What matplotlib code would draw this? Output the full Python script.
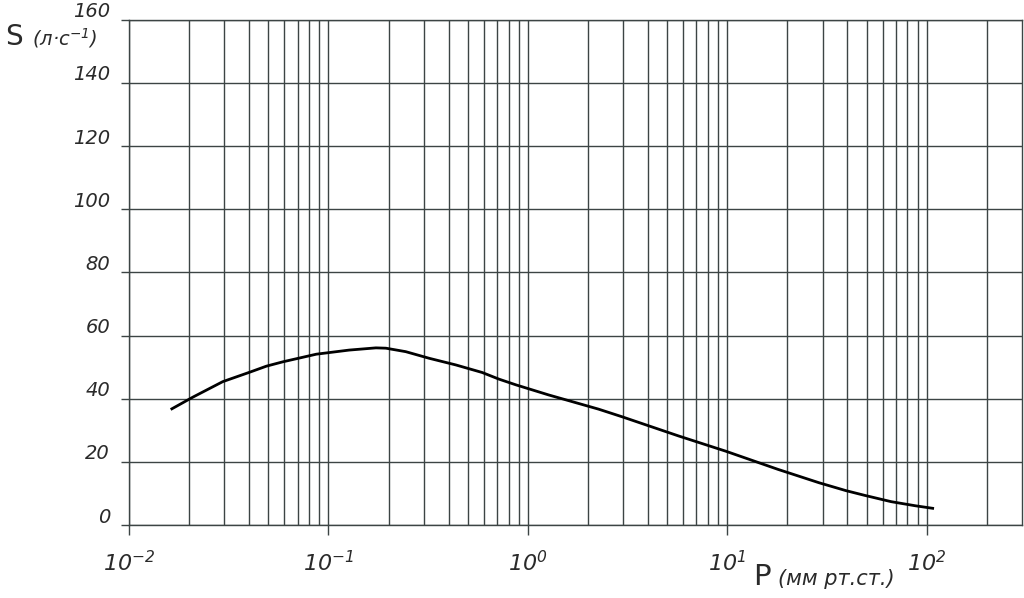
import matplotlib.pyplot as plt
import matplotlib.transforms as mtransforms
import numpy as np

plt.rcParams['font.family'] = ['DejaVu Sans']
plt.rcParams['mathtext.fontset'] = 'custom'
plt.rcParams['mathtext.it'] = 'DejaVu Sans:italic'
plt.rcParams['mathtext.rm'] = 'DejaVu Sans:italic'
plt.rcParams['mathtext.default'] = 'it'

# pressure, mm Hg
P = [0.0164, 0.0209, 0.0295, 0.0403, 0.0488, 0.0592, 0.0869, 0.127, 0.173,
     0.194, 0.244, 0.32, 0.435, 0.59, 0.716, 0.87, 1.27, 2.26, 2.96, 5.7,
     9.8, 18, 28.8, 39.3, 48.8, 66.3, 87.7, 107]
# pumping speed, l/s
S = [36.8, 40.5, 45.4, 48.4, 50.3, 51.7, 54.1, 55.4, 56.1,
     56.0, 54.9, 52.8, 50.7, 48.3, 46.2, 44.4, 41.2, 36.7, 34.3, 28.2,
     23.4, 17.6, 13.4, 10.9, 9.4, 7.4, 6.1, 5.3]

yticks = [0, 20, 40, 60, 80, 100, 120, 140, 160]
xticks = [1e-2, 1e-1, 1e0, 1e1, 1e2]
xlabels = ['$10^{-2}$', '$10^{-1}$', '$10^{0}$', '$10^{1}$', '$10^{2}$']

grid_c = '#3c4444'
txt_c = '#2a2a2a'

fig = plt.figure(figsize=(10.24, 5.98), dpi=100)
ax = fig.add_axes([0.126, 0.122, 0.872, 0.845])
ax.set_xscale('log')
ax.set_xlim(1e-2, 3e2)
ax.set_ylim(0, 160)

ax.plot(P, S, color='black', lw=2.0, zorder=3, solid_joinstyle='round')

ax.set_xticks(xticks)
ax.set_xticklabels(xlabels)
ax.set_xticks([m * 10.0**e for e in range(-2, 3) for m in range(2, 10)
               if m * 10.0**e < 3e2], minor=True)
ax.set_xticklabels([], minor=True)
ax.set_yticks(yticks)
ax.set_yticklabels([])

ax.grid(True, which='both', axis='x', color=grid_c, lw=1.0)
ax.grid(True, which='major', axis='y', color=grid_c, lw=1.0)
for sp in ax.spines.values():
    sp.set_color(grid_c)
    sp.set_linewidth(1.0)

ax.tick_params(axis='x', which='major', direction='out', length=7, width=1.0,
               color=grid_c, pad=11, labelsize=16, labelcolor=txt_c)
ax.tick_params(axis='x', which='minor', length=0)
ax.tick_params(axis='y', which='major', direction='out', length=6, width=1.0,
               color=grid_c)

# y tick labels sit a little above their lines
off = mtransforms.ScaledTranslation(-19 / 100, 8 / 100, fig.dpi_scale_trans)
for v in yticks:
    ax.text(0, v, str(v), transform=ax.get_yaxis_transform() + off,
            ha='right', va='center', fontsize=14, style='italic', color=txt_c)

fig.text(0.005, 0.925, 'S', fontsize=20, color=txt_c, ha='left', va='baseline')
fig.text(0.031, 0.925, '(л·с$^{-1}$)', fontsize=14, style='italic',
         color=txt_c, ha='left', va='baseline')

fig.text(0.735, 0.022, 'P', fontsize=21, color=txt_c, ha='left', va='baseline')
fig.text(0.760, 0.022, '(мм рт.ст.)', fontsize=15, style='italic',
         color=txt_c, ha='left', va='baseline')

fig.savefig('out.png', dpi=100)
